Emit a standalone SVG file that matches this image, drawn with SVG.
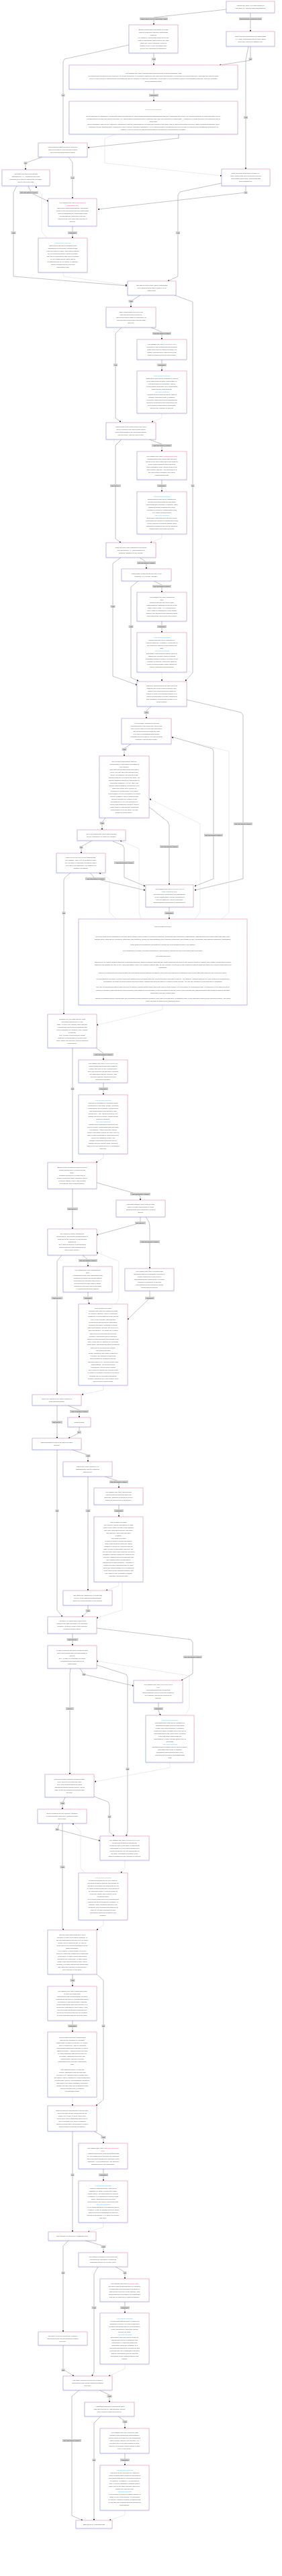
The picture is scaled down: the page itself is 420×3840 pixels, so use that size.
<svg xmlns="http://www.w3.org/2000/svg" width="420" height="3840" viewBox="0 0 420 3840">
<style>
.b{fill:#fff;stroke:url(#g);stroke-width:.7;filter:url(#s)}
.t{font-family:"Liberation Sans",Arial,sans-serif;font-size:2.45px;fill:#444;text-anchor:middle}
.h{fill:#5cb3f2;font-style:italic}
.p{fill:#e8378a}
.e{fill:none;stroke:#9c9c9c;stroke-width:.6;marker-end:url(#a)}
.l{fill:none;stroke:#d6d6d6;stroke-width:.5;marker-end:url(#a)}
.lb{fill:#cfcfcf}
.lt{font-family:"Liberation Sans",Arial,sans-serif;font-size:2.5px;fill:#333;text-anchor:middle}
</style>
<defs>
<linearGradient id="g" x1="0" y1="1" x2="1" y2="0"><stop offset="0" stop-color="#97a7f0"/><stop offset="1" stop-color="#f09fbb"/></linearGradient>
<filter id="s" x="-5%" y="-5%" width="110%" height="120%"><feDropShadow dx="0" dy=".5" stdDeviation=".4" flood-opacity=".2"/></filter>
<marker id="a" viewBox="0 0 6 6" refX="5" refY="3" markerWidth="2.6" markerHeight="2.6" markerUnits="userSpaceOnUse" orient="auto"><path d="M0,0L6,3L0,6z" fill="#222"/></marker>
</defs>
<rect width="420" height="3840" fill="#fff"/>
<g id="connectors">
<path class="e" d="M337,14L229,26L229,37"/>
<path class="e" d="M373,19L373,47"/>
<path class="e" d="M229,79L229,97"/>
<path class="e" d="M373,69L373,90L327,97"/>
<path class="e" d="M370,69L366,90L366,252"/>
<path class="e" d="M229,133L229,151"/>
<path class="e" d="M192,67L96,88L94,92L94,213"/>
<path class="e" d="M266,200L266,206L131,220"/>
<path class="l" d="M172,200L156,206L156,243L330,262"/>
<path class="e" d="M63,234L38,243L38,253"/>
<path class="e" d="M102,234L108,242L108,296"/>
<path class="e" d="M42,277L47,288L72,300"/>
<path class="e" d="M366,277L366,287L146,312"/>
<path class="e" d="M330,273L268,286L265,291L265,412L250,419"/>
<path class="e" d="M25,277L20,287L20,412L189,426"/>
<path class="l" d="M94,406L95,412L189,425"/>
<path class="e" d="M108,337L108,355"/>
<path class="l" d="M70,355L62,345L62,290L53,278"/>
<path class="e" d="M209,440L195,449L195,458"/>
<path class="e" d="M260,440L287,450L287,1003L276,1015"/>
<path class="e" d="M225,488L241,495L241,506"/>
<path class="e" d="M181,488L172,497L172,623L180,629"/>
<path class="e" d="M241,536L241,553"/>
<path class="l" d="M241,616L241,623L226,629"/>
<path class="e" d="M222,655L241,662L241,673"/>
<path class="e" d="M181,655L172,664L172,803L180,809"/>
<path class="e" d="M241,715L241,733"/>
<path class="l" d="M241,796L241,802L224,809"/>
<path class="e" d="M208,831L218,838L218,848"/>
<path class="e" d="M180,831L168,840L168,1008L204,1021"/>
<path class="e" d="M229,866L241,872L241,883"/>
<path class="e" d="M206,866L195,875L195,1010L206,1015"/>
<path class="e" d="M241,926L241,943"/>
<path class="l" d="M241,1002L241,1015"/>
<path class="e" d="M225,1053L218,1060L218,1071"/>
<path class="e" d="M278,1043L359,1062L362,1066L362,1310L290,1327"/>
<path class="e" d="M255,1098L316,1116L318,1120L318,1310L290,1321"/>
<path class="l" d="M330,1370L341,1360L341,1120L256,1099"/>
<path class="e" d="M195,1109L185,1116L185,1127"/>
<path class="e" d="M222,1203L250,1225L252,1230L252,1319"/>
<path class="l" d="M290,1370L298,1360L298,1228L223,1191"/>
<path class="e" d="M157,1219L152,1226L152,1237"/>
<path class="e" d="M168,1254L183,1260L185,1265L185,1308L216,1321"/>
<path class="l" d="M210,1370L207,1360L207,1265L179,1253"/>
<path class="e" d="M137,1253L121,1262L121,1272"/>
<path class="e" d="M134,1301L142,1310L216,1327"/>
<path class="l" d="M173,1370L163,1360L163,1310L148,1301"/>
<path class="e" d="M105,1301L96,1309L95,1313L95,1512"/>
<path class="e" d="M252,1352L252,1370"/>
<path class="l" d="M242,1498L242,1505L144,1528"/>
<path class="e" d="M143,1562L154,1570L154,1580"/>
<path class="e" d="M108,1562L108,1733"/>
<path class="e" d="M154,1614L154,1632"/>
<path class="l" d="M154,1720L154,1726L143,1733"/>
<path class="e" d="M144,1763L205,1780L209,1784L209,1789"/>
<path class="e" d="M108,1772L108,1832"/>
<path class="e" d="M209,1814L209,1823L144,1841"/>
<path class="e" d="M217,1814L222,1822L223,1828L223,1891"/>
<path class="e" d="M123,1871L131,1878L131,1888"/>
<path class="e" d="M92,1871L85,1880L85,2079"/>
<path class="l" d="M173,1944L177,1935L177,1880L144,1867"/>
<path class="e" d="M131,1926L131,1937L133,1944"/>
<path class="e" d="M223,1924L223,1935L190,1967"/>
<path class="l" d="M154,2065L154,2072L122,2079"/>
<path class="e" d="M101,2095L118,2102L118,2113"/>
<path class="e" d="M118,2127L118,2136L102,2144"/>
<path class="e" d="M85,2095L85,2144"/>
<path class="e" d="M107,2161L131,2169L131,2179"/>
<path class="e" d="M85,2161L85,2400L93,2410"/>
<path class="e" d="M156,2201L177,2208L177,2218"/>
<path class="e" d="M131,2201L131,2371"/>
<path class="e" d="M177,2243L177,2261"/>
<path class="l" d="M177,2358L177,2364L158,2371"/>
<path class="l" d="M182,2358L182,2400L144,2412"/>
<path class="e" d="M131,2393L131,2402L122,2410"/>
<path class="e" d="M108,2435L108,2453"/>
<path class="e" d="M144,2427L284,2444L287,2448L287,2495L270,2505"/>
<path class="e" d="M119,2487L125,2496L199,2513"/>
<path class="e" d="M144,2482L188,2496L190,2500L190,2730L188,2737"/>
<path class="l" d="M276,2557L282,2546L282,2498L144,2476"/>
<path class="e" d="M105,2487L104,2495L104,2645"/>
<path class="e" d="M236,2538L236,2550L239,2557"/>
<path class="l" d="M253,2627L253,2635L141,2656"/>
<path class="e" d="M97,2679L93,2688L93,2697"/>
<path class="e" d="M140,2678L161,2686L163,2690L163,2731L170,2737"/>
<path class="e" d="M89,2718L85,2727L149,2744"/>
<path class="e" d="M93,2718L93,2875L95,2877"/>
<path class="l" d="M127,2792L120,2785L120,2730L108,2718"/>
<path class="l" d="M186,2773L186,2785L180,2792"/>
<path class="l" d="M154,2862L154,2870L144,2877"/>
<path class="e" d="M108,2943L108,2961"/>
<path class="e" d="M144,2943L154,2952L154,3130L143,3139"/>
<path class="e" d="M108,3012L108,3029"/>
<path class="l" d="M108,3126L108,3139"/>
<path class="e" d="M140,3177L154,3185L154,3195"/>
<path class="e" d="M108,3177L108,3327"/>
<path class="e" d="M154,3233L154,3251"/>
<path class="l" d="M154,3313L154,3320L131,3327"/>
<path class="e" d="M127,3340L154,3348L154,3358"/>
<path class="e" d="M102,3340L94,3348L94,3476"/>
<path class="e" d="M172,3379L186,3387L186,3397"/>
<path class="e" d="M146,3379L140,3390L140,3535L137,3542"/>
<path class="e" d="M186,3431L186,3448"/>
<path class="l" d="M186,3524L186,3531L162,3542"/>
<path class="e" d="M94,3496L94,3532L110,3542"/>
<path class="e" d="M148,3563L163,3570L163,3581"/>
<path class="e" d="M118,3563L107,3572L107,3750L123,3757"/>
<path class="e" d="M176,3602L186,3609L186,3620"/>
<path class="e" d="M150,3602L140,3612L140,3757"/>
<path class="e" d="M186,3657L186,3675"/>
<path class="l" d="M186,3742L186,3749L163,3757"/>
<g id="edge-labels">
<rect class="lb" x="208" y="26" width="42" height="4"/><text class="lt" x="229" y="28.9">Other study type or secondary data</text>
<rect class="lb" x="356" y="26" width="34" height="4"/><text class="lt" x="373" y="28.9">Randomised Controlled Trial</text>
<rect class="lb" x="226" y="86" width="6" height="4"/><text class="lt" x="229" y="88.9">Yes</text>
<rect class="lb" x="370.5" y="86" width="5" height="4"/><text class="lt" x="373" y="88.9">No</text>
<rect class="lb" x="363" y="173" width="6" height="4"/><text class="lt" x="366" y="175.9">Yes</text>
<rect class="lb" x="222" y="140" width="14" height="4"/><text class="lt" x="229" y="142.9">Mitigation</text>
<rect class="lb" x="91.5" y="140" width="5" height="4"/><text class="lt" x="94" y="142.9">No</text>
<rect class="lb" x="35.5" y="241" width="5" height="4"/><text class="lt" x="38" y="243.9">No</text>
<rect class="lb" x="105" y="263" width="6" height="4"/><text class="lt" x="108" y="265.9">Yes</text>
<rect class="lb" x="29" y="285" width="28" height="4"/><text class="lt" x="43" y="287.9">NO and DON'T KNOW</text>
<rect class="lb" x="363.5" y="285" width="5" height="4"/><text class="lt" x="366" y="287.9">No</text>
<rect class="lb" x="16.5" y="345" width="7" height="4"/><text class="lt" x="20" y="347.9">YES</text>
<rect class="lb" x="101" y="345" width="14" height="4"/><text class="lt" x="108" y="347.9">Mitigation</text>
<rect class="lb" x="262" y="345" width="6" height="4"/><text class="lt" x="265" y="347.9">Yes</text>
<rect class="lb" x="191.5" y="447" width="7" height="4"/><text class="lt" x="195" y="449.9">YES</text>
<rect class="lb" x="227" y="495" width="28" height="4"/><text class="lt" x="241" y="497.9">NO and DON'T KNOW</text>
<rect class="lb" x="169" y="542" width="6" height="4"/><text class="lt" x="172" y="544.9">Yes</text>
<rect class="lb" x="234" y="542" width="14" height="4"/><text class="lt" x="241" y="544.9">Mitigation</text>
<rect class="lb" x="226" y="662" width="30" height="4"/><text class="lt" x="241" y="664.9">YES OR DON'T KNOW</text>
<rect class="lb" x="164" y="722" width="16" height="4"/><text class="lt" x="172" y="724.9">NO OR N/A</text>
<rect class="lb" x="234" y="722" width="14" height="4"/><text class="lt" x="241" y="724.9">Mitigation</text>
<rect class="lb" x="284.5" y="722" width="5" height="4"/><text class="lt" x="287" y="724.9">No</text>
<rect class="lb" x="204" y="837" width="28" height="4"/><text class="lt" x="218" y="839.9">NO OR DON'T KNOW</text>
<rect class="lb" x="227" y="872" width="28" height="4"/><text class="lt" x="241" y="874.9">NO OR DON'T KNOW</text>
<rect class="lb" x="164.5" y="902" width="7" height="4"/><text class="lt" x="168" y="904.9">YES</text>
<rect class="lb" x="191.5" y="932" width="7" height="4"/><text class="lt" x="195" y="934.9">YES</text>
<rect class="lb" x="234" y="932" width="14" height="4"/><text class="lt" x="241" y="934.9">Mitigation</text>
<rect class="lb" x="214.5" y="1060" width="7" height="4"/><text class="lt" x="218" y="1062.9">YES</text>
<rect class="lb" x="181.5" y="1115" width="7" height="4"/><text class="lt" x="185" y="1117.9">YES</text>
<rect class="lb" x="148.5" y="1225" width="7" height="4"/><text class="lt" x="152" y="1227.9">YES</text>
<rect class="lb" x="348" y="1226" width="28" height="4"/><text class="lt" x="362" y="1228.9">NO OR DON'T KNOW</text>
<rect class="lb" x="304" y="1243" width="28" height="4"/><text class="lt" x="318" y="1245.9">NO OR DON'T KNOW</text>
<rect class="lb" x="238" y="1260" width="28" height="4"/><text class="lt" x="252" y="1262.9">NO OR DON'T KNOW</text>
<rect class="lb" x="118.5" y="1261" width="5" height="4"/><text class="lt" x="121" y="1263.9">NO</text>
<rect class="lb" x="170" y="1284" width="30" height="4"/><text class="lt" x="185" y="1286.9">YES OR DON'T KNOW</text>
<rect class="lb" x="127" y="1308" width="30" height="4"/><text class="lt" x="142" y="1310.9">YES OR DON'T KNOW</text>
<rect class="lb" x="92.5" y="1359" width="5" height="4"/><text class="lt" x="95" y="1361.9">NO</text>
<rect class="lb" x="245" y="1359" width="14" height="4"/><text class="lt" x="252" y="1361.9">Mitigation</text>
<rect class="lb" x="139" y="1570" width="30" height="4"/><text class="lt" x="154" y="1572.9">YES OR DON'T KNOW</text>
<rect class="lb" x="105.5" y="1621" width="5" height="4"/><text class="lt" x="108" y="1623.9">NO</text>
<rect class="lb" x="147" y="1621" width="14" height="4"/><text class="lt" x="154" y="1623.9">Mitigation</text>
<rect class="lb" x="194" y="1778" width="30" height="4"/><text class="lt" x="209" y="1780.9">YES OR DON'T KNOW</text>
<rect class="lb" x="100" y="1800" width="16" height="4"/><text class="lt" x="108" y="1802.9">NO OR N/A</text>
<rect class="lb" x="201" y="1821" width="16" height="4"/><text class="lt" x="209" y="1823.9">NO OR N/A</text>
<rect class="lb" x="208" y="1849" width="30" height="4"/><text class="lt" x="223" y="1851.9">YES OR DON'T KNOW</text>
<rect class="lb" x="117" y="1877" width="28" height="4"/><text class="lt" x="131" y="1879.9">NO OR DON'T KNOW</text>
<rect class="lb" x="76.5" y="1933" width="17" height="4"/><text class="lt" x="85" y="1935.9">YES OR N/A</text>
<rect class="lb" x="124" y="1933" width="14" height="4"/><text class="lt" x="131" y="1935.9">Mitigation</text>
<rect class="lb" x="216" y="1933" width="14" height="4"/><text class="lt" x="223" y="1935.9">Mitigation</text>
<rect class="lb" x="104" y="2102" width="28" height="4"/><text class="lt" x="118" y="2104.9">YES or DON'T KNOW</text>
<rect class="lb" x="77" y="2118" width="16" height="4"/><text class="lt" x="85" y="2120.9">NO OR N/A</text>
<rect class="lb" x="115" y="2133" width="6" height="4"/><text class="lt" x="118" y="2135.9">N/A</text>
<rect class="lb" x="127.5" y="2168" width="7" height="4"/><text class="lt" x="131" y="2170.9">YES</text>
<rect class="lb" x="163" y="2207" width="28" height="4"/><text class="lt" x="177" y="2209.9">NO OR DON'T KNOW</text>
<rect class="lb" x="82.5" y="2250" width="5" height="4"/><text class="lt" x="85" y="2252.9">NO</text>
<rect class="lb" x="127.5" y="2250" width="7" height="4"/><text class="lt" x="131" y="2252.9">YES</text>
<rect class="lb" x="170" y="2250" width="14" height="4"/><text class="lt" x="177" y="2252.9">Mitigation</text>
<rect class="lb" x="127.5" y="2399" width="7" height="4"/><text class="lt" x="131" y="2401.9">YES</text>
<rect class="lb" x="99.5" y="2442" width="17" height="4"/><text class="lt" x="108" y="2444.9">YES OR N/A</text>
<rect class="lb" x="273" y="2468" width="28" height="4"/><text class="lt" x="287" y="2470.9">NO OR DON'T KNOW</text>
<rect class="lb" x="122.5" y="2494" width="5" height="4"/><text class="lt" x="125" y="2496.9">NO</text>
<rect class="lb" x="98" y="2545" width="12" height="4"/><text class="lt" x="104" y="2547.9">YES/N/A</text>
<rect class="lb" x="229" y="2545" width="14" height="4"/><text class="lt" x="236" y="2547.9">Mitigation</text>
<rect class="lb" x="187.5" y="2635" width="5" height="4"/><text class="lt" x="190" y="2637.9">NO</text>
<rect class="lb" x="89.5" y="2686" width="7" height="4"/><text class="lt" x="93" y="2688.9">YES</text>
<rect class="lb" x="160.5" y="2706" width="5" height="4"/><text class="lt" x="163" y="2708.9">NO</text>
<rect class="lb" x="82.5" y="2725" width="5" height="4"/><text class="lt" x="85" y="2727.9">NO</text>
<rect class="lb" x="89.5" y="2781" width="7" height="4"/><text class="lt" x="93" y="2783.9">YES</text>
<rect class="lb" x="104.5" y="2950" width="7" height="4"/><text class="lt" x="108" y="2952.9">YES</text>
<rect class="lb" x="151.5" y="3018" width="5" height="4"/><text class="lt" x="154" y="3020.9">NO</text>
<rect class="lb" x="101" y="3018" width="14" height="4"/><text class="lt" x="108" y="3020.9">Mitigation</text>
<rect class="lb" x="150.5" y="3184" width="7" height="4"/><text class="lt" x="154" y="3186.9">YES</text>
<rect class="lb" x="105.5" y="3240" width="5" height="4"/><text class="lt" x="108" y="3242.9">NO</text>
<rect class="lb" x="147" y="3240" width="14" height="4"/><text class="lt" x="154" y="3242.9">Mitigation</text>
<rect class="lb" x="150.5" y="3347" width="7" height="4"/><text class="lt" x="154" y="3349.9">YES</text>
<rect class="lb" x="91.5" y="3386" width="5" height="4"/><text class="lt" x="94" y="3388.9">NO</text>
<rect class="lb" x="183.5" y="3386" width="5" height="4"/><text class="lt" x="186" y="3388.9">NO</text>
<rect class="lb" x="136.5" y="3438" width="7" height="4"/><text class="lt" x="140" y="3440.9">YES</text>
<rect class="lb" x="179" y="3438" width="14" height="4"/><text class="lt" x="186" y="3440.9">Mitigation</text>
<rect class="lb" x="91.5" y="3531" width="5" height="4"/><text class="lt" x="94" y="3533.9">NO</text>
<rect class="lb" x="159.5" y="3570" width="7" height="4"/><text class="lt" x="163" y="3572.9">YES</text>
<rect class="lb" x="93" y="3636" width="28" height="4"/><text class="lt" x="107" y="3638.9">NO OR DON'T KNOW</text>
<rect class="lb" x="182.5" y="3608" width="7" height="4"/><text class="lt" x="186" y="3610.9">YES</text>
<rect class="lb" x="137.5" y="3665" width="5" height="4"/><text class="lt" x="140" y="3667.9">NO</text>
<rect class="lb" x="179" y="3665" width="14" height="4"/><text class="lt" x="186" y="3667.9">Mitigation</text>
</g>
</g>

<g id="n1"><rect class="b" x="337" y="2" width="72" height="17"/><text class="t" y="9.35"><tspan x="373">Indicate the study type that resulted in</tspan><tspan x="373" dy="4">your data (i.e. how the data was obtained)</tspan></text></g>

<g id="n2"><rect class="b" x="192" y="37" width="73" height="42"/><text class="t" y="44.85"><tspan x="228.5">Being a participant in the study or a data</tspan><tspan x="228.5" dy="4">subject could have affected participants'</tspan><tspan x="228.5" dy="4">behavior.</tspan><tspan x="228.5" dy="4">For instance, participants might not tell the</tspan><tspan x="228.5" dy="4">truth or omit things. This could be the case</tspan><tspan x="228.5" dy="4">when they don't remember, focus on</tspan><tspan x="228.5" dy="4">positive recall, or give an answer they</tspan><tspan x="228.5" dy="4">believe the researcher is looking for.</tspan></text></g>

<g id="n3"><rect class="b" x="337" y="47" width="72" height="22"/><text class="t" y="54.85"><tspan x="373">Data collection was blinded for participants</tspan><tspan x="373" dy="4">(i.e. study participants did not know which</tspan><tspan x="373" dy="4">group they had been assigned to).</tspan></text></g>

<g id="n4"><rect class="b" x="103" y="97" width="251" height="36"/><text class="t" y="109.85"><tspan x="228.5">Your dataset may have reporting bias, such as recall or social desirability bias.</tspan><tspan x="228.5" dy="4">Reporting bias occurs when the frequency of events, properties, or outcomes captured in the data does not accurately reflect their real-world frequency. This bias can arise because</tspan><tspan x="228.5" dy="4">people tend to focus on documenting circumstances that are unusual or especially memorable (recall bias) or overreporting events or giving answers that they think are desirable</tspan><tspan x="228.5" dy="4">(social desirability bias).</tspan></text></g>

<g id="n5"><rect class="b" x="103" y="151" width="251" height="49"/><text class="t h" x="228.5" y="163.5">Prior to Data collection</text><text class="t" y="173.5"><tspan x="228.5">Recall bias can be mitigated by blinding the data collection and by using additional/different assessments than only participant interviews (e.g. supplementing self-report with other report).</tspan><tspan x="228.5" dy="4">Certain factors increase the risk of recall bias, e.g. asking about information from a long time ago, age and education of participants. A prospective design generally decreases the risk of</tspan><tspan x="228.5" dy="4">recall bias.</tspan><tspan x="228.5" dy="4">Social desirability bias can be reduced by making sure that the participants do not know the purpose of the study and by anonymizing data collection. Other techniques that have been</tspan><tspan x="228.5" dy="4">proposed include adapting study protocols to reduce socially desirable responses, e.g. by having sensitive questions filled out in private or using special questioning techniques. In</tspan><tspan x="228.5" dy="4">addition, it may be helpful to assess participants for likelihood to respond socially desirably.</tspan></text></g>

<g id="n6"><rect class="b" x="57" y="213" width="73" height="21"/><text class="t" y="220.35"><tspan x="93.5">Interviewers or data collectors could give</tspan><tspan x="93.5" dy="4">different weight to elements that confirm</tspan><tspan x="93.5" dy="4">their beliefs or that disprove them.</tspan></text></g>

<g id="n7"><rect class="b" x="3" y="253" width="71" height="24"/><text class="t" y="259.85"><tspan x="38.5">The data collection process was</tspan><tspan x="38.5" dy="4">standardized, i.e., consistent and clear</tspan><tspan x="38.5" dy="4">methods were used to instruct the collection</tspan><tspan x="38.5" dy="4">and to collect the data.</tspan></text></g>

<g id="n9"><rect class="b" x="330" y="252" width="72" height="25"/><text class="t" y="259.35"><tspan x="366">Data collection was double blinded (i.e.</tspan><tspan x="366" dy="4">study participants and researchers did not</tspan><tspan x="366" dy="4">know which group study participants had</tspan><tspan x="366" dy="4">been assigned to).</tspan></text></g>

<g id="n8"><rect class="b" x="72" y="296" width="72" height="41"/><text class="t" y="303.35"><tspan x="108">Your dataset may have <tspan class="p">interviewer or</tspan></tspan><tspan x="108" dy="4" class="p">confirmation bias.</tspan><tspan x="108" dy="4">Interviewer bias means that the interaction</tspan><tspan x="108" dy="4">between the researcher and the participants</tspan><tspan x="108" dy="4">was not standardized. Confirmation bias</tspan><tspan x="108" dy="4">means that the researcher's beliefs</tspan><tspan x="108" dy="4">influenced the way data was collected or</tspan><tspan x="108" dy="4">labelled.</tspan></text></g>

<g id="n11"><rect class="b" x="57" y="355" width="73" height="51"/><text class="t" y="363.35"><tspan x="93.5" class="h">Prior to Data collection</tspan><tspan x="93.5" dy="4">Interviewer bias can be mitigated with</tspan><tspan x="93.5" dy="4">standardized procedures (designed with</tspan><tspan x="93.5" dy="4">bias prevention in mind), with proper training</tspan><tspan x="93.5" dy="4">for experimenters and by double-blinding.</tspan><tspan x="93.5" dy="4">The risk of confirmation bias can be reduced</tspan><tspan x="93.5" dy="4">by pre-registering the study and/or</tspan><tspan x="93.5" dy="4">hypotheses that will be tested. In addition,</tspan><tspan x="93.5" dy="4">double-blinding can help prevent</tspan><tspan x="93.5" dy="4">confirmation bias.</tspan></text></g>

<g id="n10"><rect class="b" x="190" y="419" width="72" height="21"/><text class="t" y="426.35"><tspan x="226">The data is from a study where participants</tspan><tspan x="226" dy="4">were asked to stick with or adhere to an</tspan><tspan x="226" dy="4">intervention.</tspan></text></g>

<g id="n12"><rect class="b" x="158" y="458" width="74" height="30"/><text class="t" y="465.85"><tspan x="195">Study participants received clear</tspan><tspan x="195" dy="4">instructions/reinforcements for</tspan><tspan x="195" dy="4">intervention and/or data on compliance is</tspan><tspan x="195" dy="4">collected and incorporated into the data</tspan><tspan x="195" dy="4">analysis.</tspan></text></g>

<g id="n13"><rect class="b" x="204" y="506" width="74" height="30"/><text class="t" y="513.85"><tspan x="241">Your dataset may have <tspan class="p">compliance bias.</tspan></tspan><tspan x="241" dy="4">Compliance bias means that interpretation</tspan><tspan x="241" dy="4">of the main effect is difficult because it is</tspan><tspan x="241" dy="4">partially determined by differences in the</tspan><tspan x="241" dy="4">degree of adherence to an intervention.</tspan></text></g>

<g id="n15"><rect class="b" x="204" y="553" width="74" height="63"/><text class="t" y="561.35"><tspan x="241" class="h">Prior to Data collection</tspan><tspan x="241" dy="4">Compliance bias can be mitigated by having</tspan><tspan x="241" dy="4">clear instructions for study participants, by</tspan><tspan x="241" dy="4">collecting data on compliance, and by</tspan><tspan x="241" dy="4">incorporating compliance as a confounding</tspan><tspan x="241" dy="4">factor into the data analysis.</tspan><tspan x="241" dy="4" class="h">After Data Collection</tspan><tspan x="241" dy="4">Intention to treat analysis can be used to</tspan><tspan x="241" dy="4">mitigate compliance bias. In addition,</tspan><tspan x="241" dy="4">exploratory data analyses investigating the</tspan><tspan x="241" dy="4">impact of compliance/non-compliance can</tspan><tspan x="241" dy="4">help inform to what degree compliance</tspan><tspan x="241" dy="4">affected the outcome of interest.</tspan></text></g>

<g id="n14"><rect class="b" x="158" y="630" width="74" height="25"/><text class="t" y="637.35"><tspan x="195">Participants in the control group may have</tspan><tspan x="195" dy="4">been exposed to the intervention and/or</tspan><tspan x="195" dy="4">some participants in the intervention group</tspan><tspan x="195" dy="4">did not comply with the intervention.</tspan></text></g>

<g id="n16"><rect class="b" x="204" y="673" width="74" height="42"/><text class="t" y="680.85"><tspan x="241">Your dataset may have <tspan class="p">contamination bias.</tspan></tspan><tspan x="241" dy="4">Contamination bias means that activities</tspan><tspan x="241" dy="4">similar to the intervention affect the behavior</tspan><tspan x="241" dy="4">in the control condition and lead to an</tspan><tspan x="241" dy="4">underestimation of the effectiveness of the</tspan><tspan x="241" dy="4">intervention. Similarly, non-compliance in</tspan><tspan x="241" dy="4">the intervention condition can lead to</tspan><tspan x="241" dy="4">contamination bias.</tspan></text></g>

<g id="n17"><rect class="b" x="204" y="733" width="74" height="63"/><text class="t" y="741.35"><tspan x="241" class="h">Prior to Data collection</tspan><tspan x="241" dy="4">Contamination bias can be mitigated by</tspan><tspan x="241" dy="4">having clear instructions for both study</tspan><tspan x="241" dy="4">participants and clinicians. In addition, other</tspan><tspan x="241" dy="4">statistical design methods have been</tspan><tspan x="241" dy="4">proposed to minimize contamination bias,</tspan><tspan x="241" dy="4">e.g. cluster randomization.</tspan><tspan x="241" dy="4" class="h">After Data Collection</tspan><tspan x="241" dy="4">Exploratory data analyses can help better</tspan><tspan x="241" dy="4">understand the impact of contamination bias</tspan><tspan x="241" dy="4">on the outcome of interest. Causal effect</tspan><tspan x="241" dy="4">estimation techniques can help to adjust for</tspan><tspan x="241" dy="4">contamination after data collection.</tspan></text></g>

<g id="n18"><rect class="b" x="158" y="809" width="74" height="22"/><text class="t" y="816.85"><tspan x="195">Data collection was randomized across the</tspan><tspan x="195" dy="4">relevant groups, i.e., participants were</tspan><tspan x="195" dy="4">randomly assigned to the groups.</tspan></text></g>

<g id="n19"><rect class="b" x="181" y="848" width="74" height="18"/><text class="t" y="855.85"><tspan x="218">Participants in different groups have been</tspan><tspan x="218" dy="4">matched (e.g. on age, disease).</tspan></text></g>

<g id="n20"><rect class="b" x="204" y="883" width="74" height="43"/><text class="t" y="891.35"><tspan x="241">Your dataset may have channeling</tspan><tspan x="241" dy="4">bias.</tspan><tspan x="241" dy="4">Channeling bias may occur when</tspan><tspan x="241" dy="4">participants are assigned to groups by the</tspan><tspan x="241" dy="4">study team or staff. As a consequence,</tspan><tspan x="241" dy="4">there might be imbalances in risk factors</tspan><tspan x="241" dy="4">between the groups being compared which</tspan><tspan x="241" dy="4">could impact the effect of the intervention.</tspan></text></g>

<g id="n21"><rect class="b" x="204" y="943" width="74" height="59"/><text class="t" y="951.35"><tspan x="241" class="h">Prior to Data collection</tspan><tspan x="241" dy="4">Channeling bias can be mitigated by</tspan><tspan x="241" dy="4">random sampling. In addition, knowledge of</tspan><tspan x="241" dy="4">the context is crucial to avoid channeling</tspan><tspan x="241" dy="4">bias.</tspan><tspan x="241" dy="4" class="h">After Data Collection</tspan><tspan x="241" dy="4">Exploratory data analyses can be useful to</tspan><tspan x="241" dy="4">assess the potential impact of patient</tspan><tspan x="241" dy="4">prognostic factors or degree of illness on the</tspan><tspan x="241" dy="4">outcome of interest. It would be useful to</tspan><tspan x="241" dy="4">explore to which degree these factors are</tspan><tspan x="241" dy="4">equally distributed across groups.</tspan></text></g>

<g id="n22"><rect class="b" x="204" y="1016" width="74" height="37"/><text class="t" y="1023.35"><tspan x="241">Data size is sufficient for the task and/or at</tspan><tspan x="241" dy="4">least the size of the required sample size.</tspan><tspan x="241" dy="4">Sample size was determined based on</tspan><tspan x="241" dy="4">testing (in case of hypothesis testing) or by</tspan><tspan x="241" dy="4">careful consideration of model parameters</tspan><tspan x="241" dy="4">and validation requirements (in case of ML</tspan><tspan x="241" dy="4">model testing).</tspan></text></g>

<g id="n23"><rect class="b" x="181" y="1071" width="74" height="38"/><text class="t" y="1078.85"><tspan x="218">An exploratory analysis of relevant</tspan><tspan x="218" dy="4">demographics of the target user group was</tspan><tspan x="218" dy="4">done before data collection and was taken</tspan><tspan x="218" dy="4">into account when selecting the data</tspan><tspan x="218" dy="4">(e.g. when investigating gum health,</tspan><tspan x="218" dy="4">pregnant women might be relevant because</tspan><tspan x="218" dy="4">pregnancy affects gum health).</tspan></text></g>

<g id="n25"><rect class="b" x="148" y="1127" width="74" height="92"/><text class="t" y="1135.85"><tspan x="185">The included subjects/the data are</tspan><tspan x="185" dy="4">representative of the target population of</tspan><tspan x="185" dy="4">your solution.</tspan><tspan x="185" dy="4">Note that representativeness depends a</tspan><tspan x="185" dy="4">lot on your use case and intended user</tspan><tspan x="185" dy="4">group.     For instance, depending on the</tspan><tspan x="185" dy="4">variables that are relevant for the study, the</tspan><tspan x="185" dy="4">sample statistics should be comparable to</tspan><tspan x="185" dy="4">population statistics, e.g. sex, BMI, age</tspan><tspan x="185" dy="4">groups, financial status, educational level,</tspan><tspan x="185" dy="4">ethnicities, home area, number of</tspan><tspan x="185" dy="4">pregnancies.  Furthermore, even when</tspan><tspan x="185" dy="4">representative for the population in a certain</tspan><tspan x="185" dy="4">context, a sample can be biased for the</tspan><tspan x="185" dy="4">intended solution for example in the</tspan><tspan x="185" dy="4">following ways: very few minorities or</tspan><tspan x="185" dy="4">people with disabilities included, narrow</tspan><tspan x="185" dy="4">range of BMI or age groups, insufficient</tspan><tspan x="185" dy="4">participants of a for the study relevant</tspan><tspan x="185" dy="4">gender or ethnic group.     .</tspan></text></g>

<g id="n26"><rect class="b" x="115" y="1237" width="72" height="16"/><text class="t" y="1243.85"><tspan x="151">There is considerably more data available</tspan><tspan x="151" dy="4">for one (sub)group or class over another.</tspan></text></g>

<g id="n27"><rect class="b" x="84" y="1272" width="73" height="29"/><text class="t" y="1279.35"><tspan x="120.5">There are or are likely to be missing data.</tspan><tspan x="120.5" dy="4">For instance, there is a lot of attrition (drop-</tspan><tspan x="120.5" dy="4">out, no-show or otherwise leaving the study)</tspan><tspan x="120.5" dy="4">or a risk of non-disclosure (for instance for</tspan><tspan x="120.5" dy="4">sensitive questions).</tspan></text></g>

<g id="n29"><rect class="b" x="217" y="1319" width="71" height="33"/><text class="t" y="1326.35"><tspan x="252.5">Your dataset may have <tspan class="p">selection bias or</tspan></tspan><tspan x="252.5" dy="4" class="p">class imbalance bias.</tspan><tspan x="252.5" dy="4">Selection bias means that your data sample</tspan><tspan x="252.5" dy="4">is not representative for the population of</tspan><tspan x="252.5" dy="4">interest. Both may lead to systematic</tspan><tspan x="252.5" dy="4">disadvantaging (sub)groups or stakeholders.</tspan></text></g>

<g id="n24"><rect class="b" x="117" y="1370" width="251" height="128"/><text class="t"><tspan x="242.5" y="1382.2">Prior to Data collection</tspan><tspan x="242.5" y="1396.5">Selection bias can be mitigated by inclusive study design: utilize multiple recruitment channels, collaborate with community organizations, address barriers to participation and make sure</tspan><tspan x="242.5" y="1400.5">that the study materials are inclusively formulated and designed. Create an understanding of the impacted community and engage in early, meaningful and ongoing community consultation.</tspan><tspan x="242.5" y="1409.2">Track detailed demographic information to monitor the representativeness of your sample.</tspan><tspan x="242.5" y="1417.5">Pre-registration of a study increases transparency and allows to evaluate the risk of selection bias beforehand.</tspan><tspan x="242.5" y="1426.2">After Data Collection</tspan><tspan x="242.5" y="1434.5">Techniques like simple random sampling, systematic sampling, stratified random sampling and cluster sampling can improve the balance between classes. Two-phase learning and dynamic</tspan><tspan x="242.5" y="1438.5">sampling can mitigate the risk of over- and underfitting. When you resample training data, do not evaluate your model on the resampled data because the model will overfit to that resampled</tspan><tspan x="242.5" y="1442.5">distribution.</tspan><tspan x="242.5" y="1451.2">Instead of transforming the training data, the reweighing method attaches weights to each case such that there is statistical parity in the data with respect to the protected feature.</tspan><tspan x="242.5" y="1459.5">It is important to not simply exclude cases with missing values because that may lead to selection (and other) bias(es). For instance, missing data may be more frequent in marginalized</tspan><tspan x="242.5" y="1463.5">populations, because of compounding collection biases, missing and spurious data in electronic health records. You can use intention-to-treat analysis or imputation.</tspan><tspan x="242.5" y="1471.5">The use of imputation/synthetic data can help to balance classes but be aware that it can result in other biases (e.g. uncertainty or confirmation bias). It is therefore in all cases crucial to</tspan><tspan x="242.5" y="1476.5">conduct exploratory data analyses to check whether your dataset is representative of the population of interest, and to check whether the characteristics of the synthetic data do not differ</tspan><tspan x="242.5" y="1480.5">significantly from the original data.</tspan><tspan x="242.5" y="1488.5">Instead of transforming the training data, the reweighing method attaches weight to each case such that there is statistical parity in the data with respect to the protected feature. The same</tspan><tspan x="242.5" y="1492.5">effect can also be achieved by sampling cases.</tspan></text></g>

<g id="n28"><rect class="b" x="71" y="1512" width="73" height="50"/><text class="t" y="1519.85"><tspan x="107.5">Consider for your data and the most</tspan><tspan x="107.5" dy="4">important (sub)groups in your</tspan><tspan x="107.5" dy="4">data:     Are there any factors (other than the</tspan><tspan x="107.5" dy="4">exposure/the independent variables) that</tspan><tspan x="107.5" dy="4">could contribute to a change in the variable</tspan><tspan x="107.5" dy="4">of interest.</tspan><tspan x="107.5" dy="4">E.g., income could influence eating</tspan><tspan x="107.5" dy="4">patterns, or having taken a course at an</tspan><tspan x="107.5" dy="4">earlier stage can influence current test score</tspan><tspan x="107.5" dy="4">performance.</tspan></text></g>

<g id="n30"><rect class="b" x="117" y="1580" width="73" height="34"/><text class="t" y="1585.85"><tspan x="153.5">Your dataset may have <tspan class="p">confounding bias.</tspan></tspan><tspan x="153.5" dy="4">Confounding bias means that variables</tspan><tspan x="153.5" dy="4">outside the scope of the existing model</tspan><tspan x="153.5" dy="4">were not controlled for but these variables</tspan><tspan x="153.5" dy="4">are associated with the outcome, and</tspan><tspan x="153.5" dy="4">influence both the independent and</tspan><tspan x="153.5" dy="4">dependent variables.</tspan></text></g>

<g id="n32"><rect class="b" x="117" y="1632" width="73" height="88"/><text class="t" y="1640.85"><tspan x="153.5" class="h">Prior to Data collection</tspan><tspan x="153.5" dy="4">This can be mitigated by including known</tspan><tspan x="153.5" dy="4">confounders in the study design. Unknown</tspan><tspan x="153.5" dy="4">confounders can be partially controlled for</tspan><tspan x="153.5" dy="4">with randomization and having a large</tspan><tspan x="153.5" dy="4">sample size. Also, using directed acyclic</tspan><tspan x="153.5" dy="4">graphs can help to identify causal effects</tspan><tspan x="153.5" dy="4">between variables.</tspan><tspan x="153.5" dy="4" class="h">After Data Collection</tspan><tspan x="153.5" dy="4">Causal effect estimation techniques can</tspan><tspan x="153.5" dy="4">help to remove confounding bias from data.</tspan><tspan x="153.5" dy="4">For instance, using propensity scores</tspan><tspan x="153.5" dy="4">(people with higher scores are more likely to</tspan><tspan x="153.5" dy="4">have certain confounders; these scores are</tspan><tspan x="153.5" dy="4">used in the statistical model) can</tspan><tspan x="153.5" dy="4">mitigate confounding. Directed acyclic</tspan><tspan x="153.5" dy="4">graphs can help identify those variables</tspan><tspan x="153.5" dy="4">that need to be controlled for in your statistic</tspan><tspan x="153.5" dy="4">analyses.</tspan></text></g>

<g id="n31"><rect class="b" x="71" y="1733" width="73" height="39"/><text class="t" y="1741.35"><tspan x="107.5">Based on the inclusion/exclusion criteria,</tspan><tspan x="107.5" dy="4">certain groups were excluded for the</tspan><tspan x="107.5" dy="4">study.</tspan><tspan x="107.5" dy="4">Consider groups of a certain race or</tspan><tspan x="107.5" dy="4">gender, racial and ethnic minorities, socio-</tspan><tspan x="107.5" dy="4">economic status, elderly and pediatric</tspan><tspan x="107.5" dy="4">populations, and pregnant women.</tspan></text></g>

<g id="n33"><rect class="b" x="173" y="1789" width="73" height="25"/><text class="t" y="1796.35"><tspan x="209.5">This data might be used (now or in the</tspan><tspan x="209.5" dy="4">future) to draw conclusions or create</tspan><tspan x="209.5" dy="4">solutions that could impact the excluded</tspan><tspan x="209.5" dy="4">groups.</tspan></text></g>

<g id="n34"><rect class="b" x="71" y="1832" width="73" height="39"/><text class="t" y="1840.35"><tspan x="107.5">The impact of unique anatomical,</tspan><tspan x="107.5" dy="4">physiological, and identity characteristics of</tspan><tspan x="107.5" dy="4">subjects on the outcome of interest was</tspan><tspan x="107.5" dy="4">considered.</tspan><tspan x="107.5" dy="4">(E.g. different genetic or physiological</tspan><tspan x="107.5" dy="4">factors influence drug metabolism or</tspan><tspan x="107.5" dy="4">intervention efficacy.)</tspan></text></g>

<g id="n36"><rect class="b" x="94" y="1888" width="73" height="38"/><text class="t" y="1893.85"><tspan x="130.5">Your dataset may have homogeneity</tspan><tspan x="130.5" dy="4">bias.</tspan><tspan x="130.5" dy="4">Homogeneity bias is the assumption that</tspan><tspan x="130.5" dy="4">members of a group are similar without</tspan><tspan x="130.5" dy="4">accounting for individual differences. It</tspan><tspan x="130.5" dy="4">overlooks the diversity within a group,</tspan><tspan x="130.5" dy="4">leading to a one-size-fits-all approach</tspan><tspan x="130.5" dy="4">in design and decision making.</tspan></text></g>

<g id="n35"><rect class="b" x="186" y="1891" width="73" height="33"/><text class="t" y="1896.35"><tspan x="222.5">Your dataset may have exclusion bias.</tspan><tspan x="222.5" dy="4">Exclusion bias is a systematic exclusion of</tspan><tspan x="222.5" dy="4">certain subgroups or not properly</tspan><tspan x="222.5" dy="4">understanding the impact of the exclusion,</tspan><tspan x="222.5" dy="4">leading to incomplete or skewed</tspan><tspan x="222.5" dy="4">understanding of the solution's impact</tspan><tspan x="222.5" dy="4">across different groups.</tspan></text></g>

<g id="n38"><rect class="b" x="117" y="1944" width="73" height="121"/><text class="t" y="1950.75"><tspan x="153.5">Prior to Data collection:</tspan><tspan x="153.5" dy="4.2">Consider how different subgroups might</tspan><tspan x="153.5" dy="4.2">be uniquely affected. Involve community</tspan><tspan x="153.5" dy="4.2">members or representatives of the groups</tspan><tspan x="153.5" dy="4.2">early in the process, ensuring their</tspan><tspan x="153.5" dy="4.2">perspectives and needs are addressed.</tspan><tspan x="153.5" dy="4.2">Consider alternative methods to include</tspan><tspan x="153.5" dy="4.2">data from sensitive groups, like surveys or</tspan><tspan x="153.5" dy="4.2">interview studies. You might use existing</tspan><tspan x="153.5" dy="4.2">data from previous studies to include</tspan><tspan x="153.5" dy="4.2">sensitive populations and hypothesize</tspan><tspan x="153.5" dy="4.2">about relevant outcomes. The design of the</tspan><tspan x="153.5" dy="4.2">study could also be adapted to a separate</tspan><tspan x="153.5" dy="4.2">cohort study with additional safety measures</tspan><tspan x="153.5" dy="4.2">that allow to include these groups.</tspan><tspan x="153.5" dy="4.2">After Data Collection:</tspan><tspan x="153.5" dy="4.2">Clearly document and justify reasons for</tspan><tspan x="153.5" dy="4.2">exclusion.     Be transparent about the</tspan><tspan x="153.5" dy="4.2">study's/dataset's limitations and any</tspan><tspan x="153.5" dy="4.2">potential biases (e.g., document this in the</tspan><tspan x="153.5" dy="4.2">Data Catalog). Do not generalize</tspan><tspan x="153.5" dy="4.2">conclusions.     Set up proper market</tspan><tspan x="153.5" dy="4.2">surveillance to monitor the effects on the</tspan><tspan x="153.5" dy="4.2">(excluded or sensitive) groups in real-world</tspan><tspan x="153.5" dy="4.2">settings. Set up reporting systems for</tspan><tspan x="153.5" dy="4.2">sensitive groups to see if the system does</tspan><tspan x="153.5" dy="4.2">not meet their requirements.</tspan></text></g>

<g id="n39"><rect class="b" x="48" y="2079" width="73" height="16"/><text class="t" y="2085.85"><tspan x="84.5">There are labels for sex and/or gender of</tspan><tspan x="84.5" dy="4">subjects/participants.</tspan></text></g>

<g id="n40"><rect class="b" x="101" y="2113" width="34" height="14"/><text class="t" x="118" y="2120.85">Untitled Node</text></g>

<g id="n41"><rect class="b" x="48" y="2144" width="73" height="17"/><text class="t" y="2151.35"><tspan x="84.5">Data annotation is part of the data collection</tspan><tspan x="84.5" dy="4">process.</tspan></text></g>

<g id="n42"><rect class="b" x="94" y="2179" width="73" height="22"/><text class="t" y="2186.85"><tspan x="130.5">Labels are clearly defined (e.g.</tspan><tspan x="130.5" dy="4">unambiguous) and are tested for</tspan><tspan x="130.5" dy="4">stereotypes.</tspan></text></g>

<g id="n44"><rect class="b" x="140" y="2218" width="73" height="25"/><text class="t" y="2225.35"><tspan x="176.5">Your dataset may have labeling bias.</tspan><tspan x="176.5" dy="4">Labeling bias means that labels are</tspan><tspan x="176.5" dy="4">differently assigned to groups of people</tspan><tspan x="176.5" dy="4">based on stereotypes in our society.</tspan></text></g>

<g id="n46"><rect class="b" x="140" y="2261" width="73" height="97"/><text class="t" y="2270.35"><tspan x="176.5">Prior to Data collection:</tspan><tspan x="176.5" dy="4">Use multiple human annotators per data</tspan><tspan x="176.5" dy="4">point (ideally with expertise in the domain)</tspan><tspan x="176.5" dy="4">who label data independently and make</tspan><tspan x="176.5" dy="4">sure that they have high interrater</tspan><tspan x="176.5" dy="4">reliability.</tspan><tspan x="176.5" dy="4">After Data Collection:</tspan><tspan x="176.5" dy="4">In case of multiple human annotators,</tspan><tspan x="176.5" dy="4">those data points for which the labels</tspan><tspan x="176.5" dy="4">disagree a lot can be removed from the</tspan><tspan x="176.5" dy="4">data. In case of automated labelling, one</tspan><tspan x="176.5" dy="4">can use semi-supervised labelling: provide a</tspan><tspan x="176.5" dy="4">probability that the unlabelled examples are</tspan><tspan x="176.5" dy="4">correctly classified and feed that back into</tspan><tspan x="176.5" dy="4">the classifier with a weight that is</tspan><tspan x="176.5" dy="4">proportional to that probability. Alternatively,</tspan><tspan x="176.5" dy="4">a bias correction framework can be used,</tspan><tspan x="176.5" dy="4">where the biased dataset is re-weighted to</tspan><tspan x="176.5" dy="4">fit the (theoretical) unbiased dataset, and</tspan><tspan x="176.5" dy="4">only then fed into a machine learning</tspan><tspan x="176.5" dy="4">algorithm as training data.</tspan></text></g>

<g id="n45"><rect class="b" x="94" y="2371" width="73" height="22"/><text class="t" y="2378.85"><tspan x="130.5">The labels are assigned by experts who</tspan><tspan x="130.5" dy="4">receive clear instructions and training,</tspan><tspan x="130.5" dy="4">and/or are knowledgeable in the domain.</tspan></text></g>

<g id="n43"><rect class="b" x="71" y="2410" width="73" height="25"/><text class="t" y="2417.35"><tspan x="107.5">A measure of classification agreement</tspan><tspan x="107.5" dy="4">between the data collectors (e.g. interrater</tspan><tspan x="107.5" dy="4">reliability) is used to align on the outcome</tspan><tspan x="107.5" dy="4">measures and/or labels.</tspan></text></g>

<g id="n47"><rect class="b" x="71" y="2453" width="73" height="34"/><text class="t" y="2460.85"><tspan x="107.5">In case of groups: the same measures have</tspan><tspan x="107.5" dy="4">been used across different participants or</tspan><tspan x="107.5" dy="4">groups.</tspan><tspan x="107.5" dy="4">E.g., in case of recordings, the same</tspan><tspan x="107.5" dy="4">recording device was used for all</tspan><tspan x="107.5" dy="4">participants.</tspan></text></g>

<g id="n48"><rect class="b" x="199" y="2505" width="73" height="33"/><text class="t" y="2512.35"><tspan x="235.5">Your dataset may have <tspan class="p">misclassification</tspan></tspan><tspan x="235.5" dy="4" class="p">bias.</tspan><tspan x="235.5" dy="4">Misclassification bias means that</tspan><tspan x="235.5" dy="4">participants have been incorrectly assigned</tspan><tspan x="235.5" dy="4">to a category altering the outcome of</tspan><tspan x="235.5" dy="4">interest.</tspan></text></g>

<g id="n49"><rect class="b" x="217" y="2557" width="72" height="70"/><text class="t" y="2564.85"><tspan x="253" class="h">Prior to Data collection</tspan><tspan x="253" dy="4">Misclassification bias can be mitigated by</tspan><tspan x="253" dy="4">standardizing data collection and using</tspan><tspan x="253" dy="4">reliable and valid measures. In addition,</tspan><tspan x="253" dy="4">prospective study designs reduce the risk of</tspan><tspan x="253" dy="4">misclassification bias. Since there is always</tspan><tspan x="253" dy="4">a risk that some participants are</tspan><tspan x="253" dy="4">misclassified, a large enough sample size is</tspan><tspan x="253" dy="4">important.</tspan><tspan x="253" dy="4" class="h">After Data Collection</tspan><tspan x="253" dy="4">Bootstrapping imputation can be used to reduce</tspan><tspan x="253" dy="4">misclassification bias. In addition,</tspan><tspan x="253" dy="4">quantitative bias analyses have been</tspan><tspan x="253" dy="4">proposed to account for misclassification</tspan><tspan x="253" dy="4">bias.</tspan></text></g>

<g id="n50"><rect class="b" x="67" y="2645" width="73" height="34"/><text class="t" y="2652.85"><tspan x="103.5">Valid and reliable outcome measures have</tspan><tspan x="103.5" dy="4">been used for collecting the data.</tspan><tspan x="103.5" dy="4">E.g. clear considerations for using</tspan><tspan x="103.5" dy="4">categorical/ordinal/cardinal scales, use of</tspan><tspan x="103.5" dy="4">state-of-the-art measurement scales and</tspan><tspan x="103.5" dy="4">devices.</tspan></text></g>

<g id="n51"><rect class="b" x="56" y="2697" width="73" height="21"/><text class="t" y="2704.35"><tspan x="92.5">Direct measures for the outcome variables</tspan><tspan x="92.5" dy="4">of interest rather than proxy measures have</tspan><tspan x="92.5" dy="4">been used.</tspan></text></g>

<g id="n54"><rect class="b" x="149" y="2737" width="73" height="36"/><text class="t" y="2743.85"><tspan x="185.5">Your dataset may have <tspan class="p">measurement bias.</tspan></tspan><tspan x="185.5" dy="4">Measurement bias means that the</tspan><tspan x="185.5" dy="4">measures used in the study to assess the</tspan><tspan x="185.5" dy="4">participants (e.g. self-report measures or</tspan><tspan x="185.5" dy="4">clinical measures) are not appropriate for</tspan><tspan x="185.5" dy="4">the study population or setting, or are</tspan><tspan x="185.5" dy="4">indirect measures of the outcome of interest.</tspan></text></g>

<g id="n53"><rect class="b" x="117" y="2792" width="73" height="70"/><text class="t" y="2799.85"><tspan x="153.5" class="h">Prior to Data collection</tspan><tspan x="153.5" dy="4">Measurement bias can be prevented by</tspan><tspan x="153.5" dy="4">selecting measures that are appropriate for</tspan><tspan x="153.5" dy="4">the study population and setting as well as</tspan><tspan x="153.5" dy="4">by using measures that have been shown to</tspan><tspan x="153.5" dy="4">be valid and reliable. It can be helpful to</tspan><tspan x="153.5" dy="4">report the validity and reliability of the</tspan><tspan x="153.5" dy="4">measures used.</tspan><tspan x="153.5" dy="4">Try to avoid using proxies for outcomes but</tspan><tspan x="153.5" dy="4">instead use direct measures if possible. In</tspan><tspan x="153.5" dy="4">addition, some measures that have low</tspan><tspan x="153.5" dy="4">sensitivity may not detect the outcome of</tspan><tspan x="153.5" dy="4">interest. It is also important to have</tspan><tspan x="153.5" dy="4">information about the sensitivity of a</tspan><tspan x="153.5" dy="4">measure.</tspan></text></g>

<g id="n52"><rect class="b" x="71" y="2877" width="73" height="66"/><text class="t" y="2884.85"><tspan x="107.5">The way that participants have been</tspan><tspan x="107.5" dy="4">included (or have been asked consent), or</tspan><tspan x="107.5" dy="4">the way that data is collected (e.g. by social</tspan><tspan x="107.5" dy="4">media, from a particular site, by app or)</tspan><tspan x="107.5" dy="4">could result in an overrepresentation of the</tspan><tspan x="107.5" dy="4">target population.</tspan><tspan x="107.5" dy="4">For example, a large number of people</tspan><tspan x="107.5" dy="4">invited to participate disagreed to participate</tspan><tspan x="107.5" dy="4">in the study, or some people had limited</tspan><tspan x="107.5" dy="4">access to the system/site, or data comes</tspan><tspan x="107.5" dy="4">mostly from popular items or more active</tspan><tspan x="107.5" dy="4">persons, or people with specific factors that</tspan><tspan x="107.5" dy="4">may affect the outcome of interest have</tspan><tspan x="107.5" dy="4">been included in the study.</tspan></text></g>

<g id="n55"><rect class="b" x="71" y="2961" width="73" height="51"/><text class="t" y="2969.35"><tspan x="107.5">Your dataset may have participation bias</tspan><tspan x="107.5" dy="4">or (self-)selection bias.</tspan><tspan x="107.5" dy="4">Participation bias means that the included</tspan><tspan x="107.5" dy="4">subjects do not properly represent the target</tspan><tspan x="107.5" dy="4">population or disproportionately possess</tspan><tspan x="107.5" dy="4">certain traits which affect the outcome (e.g.</tspan><tspan x="107.5" dy="4">being more motivated or more active). Self-</tspan><tspan x="107.5" dy="4">selection bias results when subjects self-</tspan><tspan x="107.5" dy="4">select for enrollment and may be healthier</tspan><tspan x="107.5" dy="4">or more motivated than the general public.</tspan></text></g>

<g id="n57"><rect class="b" x="71" y="3029" width="73" height="97"/><text class="t" y="3038.35"><tspan x="107.5">Prior to Data collection:     Participation</tspan><tspan x="107.5" dy="4">bias can be mitigated by including</tspan><tspan x="107.5" dy="4">participants via different means (e.g. phone,</tspan><tspan x="107.5" dy="4">mail, in person etc.) and by including</tspan><tspan x="107.5" dy="4">participants regardless of whether or not all</tspan><tspan x="107.5" dy="4">data is available. Additional data collection</tspan><tspan x="107.5" dy="4">or using additional data sources may be</tspan><tspan x="107.5" dy="4">necessary. Ensuring anonymity and</tspan><tspan x="107.5" dy="4">confidentiality can help increase</tspan><tspan x="107.5" dy="4">participation and decrease participation</tspan><tspan x="107.5" dy="4">bias.</tspan><tspan x="107.5" dy="8">After Data Collection:     In case the</tspan><tspan x="107.5" dy="4">variable associated with the bias was</tspan><tspan x="107.5" dy="4">recorded (e.g. character trait or health) then</tspan><tspan x="107.5" dy="4">the sample can be adjusted by using stratification</tspan><tspan x="107.5" dy="4">or propensity scores. Post-weighting, sensitivity</tspan><tspan x="107.5" dy="4">analysis or even data imputation could help</tspan><tspan x="107.5" dy="4">mitigate the bias. The use of additional data</tspan><tspan x="107.5" dy="4">sources is also a way to improve</tspan><tspan x="107.5" dy="4">representativeness.</tspan></text></g>

<g id="n56"><rect class="b" x="71" y="3139" width="73" height="38"/><text class="t" y="3146.85"><tspan x="107.5">Data for different participants or groups have</tspan><tspan x="107.5" dy="4">been collected at time points that are far</tspan><tspan x="107.5" dy="4">apart (e.g. years), or at an earlier time</tspan><tspan x="107.5" dy="4">where there was a significant difference in</tspan><tspan x="107.5" dy="4">way of working (e.g. before a hospital</tspan><tspan x="107.5" dy="4">started working with a new scanner or there</tspan><tspan x="107.5" dy="4">was a change in disease definitions).</tspan></text></g>

<g id="n58"><rect class="b" x="117" y="3195" width="73" height="38"/><text class="t" y="3202.85"><tspan x="153.5">Your dataset may have <tspan class="p">historical/chronology</tspan></tspan><tspan x="153.5" dy="4" class="p">bias.</tspan><tspan x="153.5" dy="4">Historical/chronology bias means that parts</tspan><tspan x="153.5" dy="4">of your dataset were collected at a different</tspan><tspan x="153.5" dy="4">time point when things were potentially done</tspan><tspan x="153.5" dy="4">differently. As a consequence, the different</tspan><tspan x="153.5" dy="4">subsamples are not comparable.</tspan></text></g>

<g id="n60"><rect class="b" x="117" y="3251" width="73" height="62"/><text class="t" y="3258.85"><tspan x="153.5" class="h">Prior to Data collection</tspan><tspan x="153.5" dy="4">Historical data/chronology bias can be</tspan><tspan x="153.5" dy="4">mitigated by using a prospective study</tspan><tspan x="153.5" dy="4">design and by not using historical controls.</tspan><tspan x="153.5" dy="4">In addition, in a randomized controlled trial</tspan><tspan x="153.5" dy="4">(RCT), using small block sizes for</tspan><tspan x="153.5" dy="4">randomization can reduce chronology bias.</tspan><tspan x="153.5" dy="4" class="h">After Data Collection</tspan><tspan x="153.5" dy="4">If it is known that there is a historical bias in</tspan><tspan x="153.5" dy="4">a sample, a way to mitigate this is by using</tspan><tspan x="153.5" dy="4">different approval thresholds for different</tspan><tspan x="153.5" dy="4">groups in the sample (e.g. salary for women</tspan><tspan x="153.5" dy="4">and men).</tspan></text></g>

<g id="n59"><rect class="b" x="72" y="3327" width="71" height="13"/><text class="t" x="107.5" y="3334.35">The outcome of interest is a diagnostic test.</text></g>

<g id="n61"><rect class="b" x="117" y="3358" width="73" height="21"/><text class="t" y="3365.35"><tspan x="153.5">The dataset consists of individuals that</tspan><tspan x="153.5" dy="4">represent the population in which the</tspan><tspan x="153.5" dy="4">diagnostic test will be typically used.</tspan></text></g>

<g id="n63"><rect class="b" x="149" y="3397" width="73" height="34"/><text class="t" y="3404.85"><tspan x="185.5">Your dataset may have <tspan class="p">spectrum bias.</tspan></tspan><tspan x="185.5" dy="4">Spectrum bias means that there is variability</tspan><tspan x="185.5" dy="4">of diagnostic test performance because of</tspan><tspan x="185.5" dy="4">differences in severity of the disease. This</tspan><tspan x="185.5" dy="4">means that the performance of a diagnostic</tspan><tspan x="185.5" dy="4">test may be different in a different sample.</tspan></text></g>

<g id="n65"><rect class="b" x="149" y="3448" width="73" height="76"/><text class="t" y="3456.85"><tspan x="185.5" class="h">Prior to Data collection</tspan><tspan x="185.5" dy="4">It is important that the study in which the</tspan><tspan x="185.5" dy="4">diagnostic accuracy of a test is assessed</tspan><tspan x="185.5" dy="4">includes individuals who are representative</tspan><tspan x="185.5" dy="4">of the population in which the test will</tspan><tspan x="185.5" dy="4">typically be used.</tspan><tspan x="185.5" dy="4" class="h">After data collection</tspan><tspan x="185.5" dy="4">Exploratory analyses can be helpful to</tspan><tspan x="185.5" dy="4">assess differences in diagnostic test</tspan><tspan x="185.5" dy="4">performance in different subgroups.</tspan><tspan x="185.5" dy="4">Information about the possibility of a</tspan><tspan x="185.5" dy="4">spectrum bias should be provided so that</tspan><tspan x="185.5" dy="4">clinicians who use a diagnostic test know</tspan><tspan x="185.5" dy="4">that its performance may be different</tspan><tspan x="185.5" dy="4">depending on the characteristics of the</tspan><tspan x="185.5" dy="4">patient.</tspan></text></g>

<g id="n62"><rect class="b" x="57" y="3476" width="73" height="20"/><text class="t" y="3482.85"><tspan x="93.5">The study involved a follow-up in which it</tspan><tspan x="93.5" dy="4">was studied how effects changed/persisted</tspan><tspan x="93.5" dy="4">over time.</tspan></text></g>

<g id="n64"><rect class="b" x="94" y="3542" width="73" height="21"/><text class="t" y="3549.35"><tspan x="130.5">The study involved a follow-up in which it</tspan><tspan x="130.5" dy="4">was studied how effects changed/persisted</tspan><tspan x="130.5" dy="4">over time.</tspan></text></g>

<g id="n66"><rect class="b" x="126" y="3581" width="74" height="21"/><text class="t" y="3588.35"><tspan x="163">A significant amount of (participant) data</tspan><tspan x="163" dy="4">was lost at follow-up AND/OR study groups</tspan><tspan x="163" dy="4">have unequal losses at follow-up.</tspan></text></g>

<g id="n67"><rect class="b" x="149" y="3620" width="73" height="37"/><text class="t" y="3627.35"><tspan x="185.5">Your dataset may have follow-up bias.</tspan><tspan x="185.5" dy="4">Transfer bias means that participants are</tspan><tspan x="185.5" dy="4">lost at follow-up or that only the participants</tspan><tspan x="185.5" dy="4">with a certain outcome are included, e.g.</tspan><tspan x="185.5" dy="4">because one of the interventions is more</tspan><tspan x="185.5" dy="4">effective or because certain factors is more</tspan><tspan x="185.5" dy="4">likely in one group.</tspan></text></g>

<g id="n68"><rect class="b" x="149" y="3675" width="73" height="67"/><text class="t" y="3683.35"><tspan x="185.5" class="h">Prior to Data collection</tspan><tspan x="185.5" dy="4">This bias can be prevented by ensuring</tspan><tspan x="185.5" dy="4">good communication between researchers</tspan><tspan x="185.5" dy="4">and participants and by providing incentives</tspan><tspan x="185.5" dy="4">to continue. In addition, it is important to</tspan><tspan x="185.5" dy="4">have a plan for handling of missing data in</tspan><tspan x="185.5" dy="4">place prior to the data collection and to pre-</tspan><tspan x="185.5" dy="4">register the analysis plan.</tspan><tspan x="185.5" dy="4" class="h">After data collection</tspan><tspan x="185.5" dy="4">It is necessary to analyze whether attrition is</tspan><tspan x="185.5" dy="4">higher in one of the groups. It is important</tspan><tspan x="185.5" dy="4">to carefully consider reasons for attrition and</tspan><tspan x="185.5" dy="4">to use analysis methods such as intention to</tspan><tspan x="185.5" dy="4">treat analysis.</tspan></text></g>

<g id="end"><rect class="b" x="113" y="3757" width="54" height="12"/><text class="t" x="140" y="3763.85">END OF DATA COLLECTION</text></g>
</svg>
